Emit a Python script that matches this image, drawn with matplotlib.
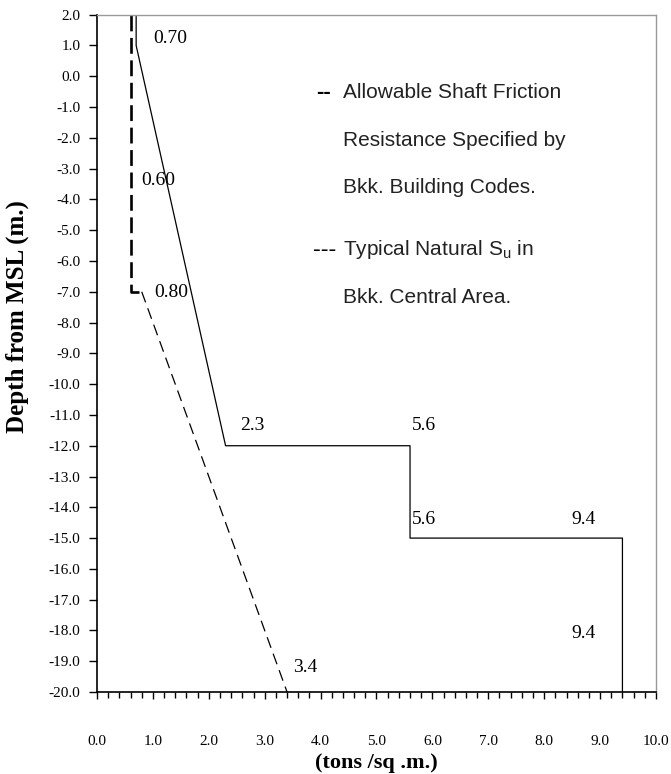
import numpy as np
import matplotlib
matplotlib.use("Agg")
import matplotlib.pyplot as plt
from matplotlib.ticker import MultipleLocator, FormatStrFormatter

# dados lidos do gráfico
# resistência de projeto (linha contínua)
solid_x = [0.70, 0.70, 2.30, 5.60, 5.60, 9.40, 9.40]
solid_y = [2.0, 1.0, -12.0, -12.0, -15.0, -15.0, -20.0]

# resistência admissível (traço grosso)
allow_x = [0.60, 0.60, 0.80]
allow_y = [2.0, -7.0, -7.0]

# Su natural típico (traço fino)
su_x = [0.80, 3.40]
su_y = [-7.0, -20.0]

# rótulos de valores: (texto, x, y)
value_labels = [("0.70", 1.00, 1.24), ("0.60", 0.80, -3.37), ("0.80", 1.02, -7.03),
                ("2.3", 2.56, -11.35), ("5.6", 5.63, -11.35), ("5.6", 5.63, -14.4),
                ("9.4", 8.48, -14.4), ("3.4", 3.50, -19.2), ("9.4", 8.48, -18.1)]

legend_lines = ["Allowable Shaft Friction", "Resistance Specified by",
                "Bkk. Building Codes.", r"Typical Natural $\mathregular{S_u}$ in",
                "Bkk. Central Area."]
legend_y = [-0.54, -2.07, -3.60, -5.64, -7.17]

serif = "Liberation Serif"
sans = "Liberation Sans"

fig = plt.figure(figsize=(6.71, 7.74), dpi=100)
ax = fig.add_axes([0.1446, 0.1059, 0.8330, 0.8751])

ax.plot(solid_x, solid_y, color="black", lw=0.9)
ax.plot(allow_x, allow_y, color="black", lw=1.9, dashes=(6, 2.5))
ax.plot(su_x, su_y, color="black", lw=0.9, dashes=(9, 5))

for txt, x, y in value_labels:
    ax.text(x, y, txt, family=serif, fontsize=14, va="center", ha="left")

# legenda escrita como texto
ax.text(3.92, legend_y[0], "--", family=sans, fontsize=16, fontweight="bold",
        va="center", ha="left")
ax.text(3.86, legend_y[3], "---", family=sans, fontsize=17, va="center", ha="left")
for txt, y in zip(legend_lines, legend_y):
    ax.text(4.40, y, txt, family=sans, fontsize=15, va="center", ha="left",
            color="#222222")

ax.set_xlim(0, 10)
ax.set_ylim(-20, 2)
ax.xaxis.set_major_locator(MultipleLocator(1.0))
ax.xaxis.set_minor_locator(MultipleLocator(0.2))
ax.yaxis.set_major_locator(MultipleLocator(1.0))
ax.xaxis.set_major_formatter(FormatStrFormatter("%.1f"))
ax.yaxis.set_major_formatter(FormatStrFormatter("%.1f"))

ax.tick_params(axis="x", which="major", direction="out", length=5, width=1,
               pad=26, labelsize=11)
ax.tick_params(axis="x", which="minor", direction="out", length=4.3, width=1)
ax.tick_params(axis="y", which="major", direction="out", length=6, width=1,
               pad=6, labelsize=11)
for lab in ax.get_xticklabels() + ax.get_yticklabels():
    lab.set_family(serif)

for side in ["top", "right"]:
    ax.spines[side].set_color("#999999")
    ax.spines[side].set_linewidth(1.0)
for side in ["left", "bottom"]:
    ax.spines[side].set_color("black")
    ax.spines[side].set_linewidth(1.2)

ax.set_xlabel("(tons /sq .m.)", family=serif, fontsize=16, fontweight="bold")
ax.xaxis.label.set_va("center")
ax.xaxis.set_label_coords(0.5, -0.105)
ax.set_ylabel("Depth from MSL (m.)", family=serif, fontsize=18, fontweight="bold")
ax.yaxis.label.set_va("center")
ax.yaxis.set_label_coords(-0.143, 0.555)

fig.savefig("out.png", dpi=100)
